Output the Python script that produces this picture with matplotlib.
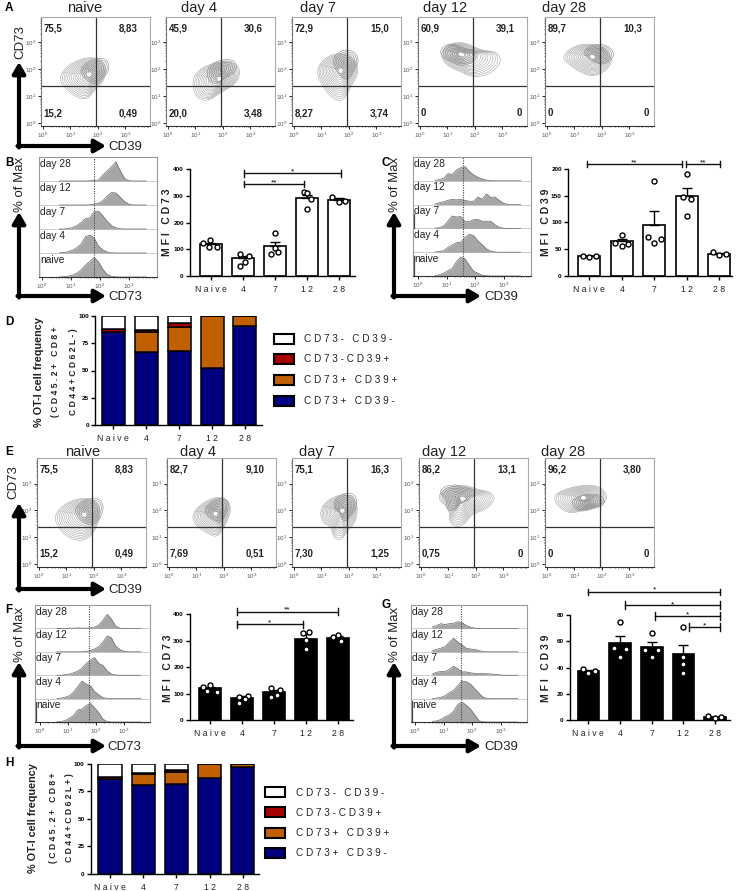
import numpy as np
import matplotlib
matplotlib.use("Agg")
import matplotlib.pyplot as plt

plt.rcParams['font.family'] = ['Liberation Sans', 'DejaVu Sans']
plt.rcParams['mathtext.default'] = 'regular'

W, H = 738, 891

# === Data ===
flow_titles = ["naive", "day 4", "day 7", "day 12", "day 28"]
flow_a_labels = [["75,5", "8,83", "15,2", "0,49"], ["45,9", "30,6", "20,0", "3,48"],
                 ["72,9", "15,0", "8,27", "3,74"], ["60,9", "39,1", "0", "0"], ["89,7", "10,3", "0", "0"]]
flow_e_labels = [["75,5", "8,83", "15,2", "0,49"], ["82,7", "9,10", "7,69", "0,51"],
                 ["75,1", "16,3", "7,30", "1,25"], ["86,2", "13,1", "0,75", "0"], ["96,2", "3,80", "0", "0"]]

# outer contour of each plot (log10 CD39, log10 CD73), and the densest spot
a_outer_x = [[.6, .85, 1.4, 1.95, 2.3, 2.25, 1.95, 1.6, 1.15, .7],
             [.87, 1.17, 1.78, 2.39, 2.66, 2.5, 1.96, 1.41, .99],
             [.79, 1.16, 1.71, 2.2, 2.38, 2.07, 1.83, 1.46, 1.04],
             [.73, 1.06, 1.61, 2.22, 2.83, 2.98, 2.59, 1.98, 1.49, .94],
             [.54, 1, 1.73, 2.22, 2.4, 2.1, 1.67, 1.18, .76]]
a_outer_y = [[1.7, 2.1, 2.4, 2.45, 2.15, 1.6, 1.3, .85, 1.0, 1.4],
             [1.6, 2.03, 2.27, 2.27, 1.96, 1.47, 1.16, .79, .98],
             [1.96, 2.46, 2.62, 2.4, 1.9, 1.35, .85, .85, 1.35],
             [2.58, 2.95, 3.01, 2.7, 2.64, 2.27, 1.84, 1.68, 1.9, 2.15],
             [2.46, 2.89, 2.95, 2.7, 2.27, 1.9, 1.72, 1.9, 2.21]]
a_peak = [(1.7, 1.81), (1.9, 1.65), (1.71, 1.96), (1.49, 2.56), (1.67, 2.46)]
a_dense = [(1.9, 1.95), (1.95, 1.95), (1.9, 2.2), (1.4, 2.55), (1.9, 2.55)]
e_outer_x = [[.55, .88, 1.49, 2.04, 2.26, 2.1, 1.85, 1.49, 1.06, .7],
             [.82, 1.12, 1.73, 2.16, 2.28, 1.98, 1.73, 1.37, 1.0],
             [.94, 1.22, 1.89, 2.32, 2.28, 1.89, 1.77, 1.46, 1.34, 1.04],
             [.57, .91, 1.59, 2.07, 2.56, 2.72, 2.38, 1.83, 1.59, 1.28, 1.04, 1.04],
             [.22, .61, 1.34, 1.95, 2.22, 2.07, 1.46, .85, .43]]
e_outer_y = [[1.79, 2.22, 2.47, 2.41, 1.98, 1.36, .99, .86, .99, 1.36],
             [1.79, 2.22, 2.53, 2.41, 1.98, 1.3, .99, 1.17, 1.42],
             [1.98, 2.41, 2.65, 2.35, 1.6, 1.17, .93, .93, 1.42, 1.54],
             [2.47, 2.86, 2.96, 2.78, 2.69, 2.41, 2.04, 1.85, 1.48, 1.36, 1.54, 2.04],
             [2.53, 2.78, 2.96, 2.9, 2.53, 2.22, 2.04, 1.88, 2.1]]
e_peak = [(1.67, 1.85), (1.71, 1.88), (1.77, 2.0), (1.52, 2.44), (1.34, 2.47)]
e_dense = [(1.85, 1.95), (1.75, 2.0), (1.85, 2.1), (1.3, 2.5), (1.5, 2.3)]

# histogram heights on a common log10 grid, rows from naive up to day 28
hist_x = [.6, .75, .9, 1.05, 1.2, 1.35, 1.5, 1.65, 1.8, 1.95, 2.1, 2.25, 2.4, 2.55, 2.7, 2.85, 3.0, 3.15, 3.3, 3.45, 3.6]
hist_rows = ["naive", "day 4", "day 7", "day 12", "day 28"]
hist_b = [[0, .01, .03, .08, .16, .3, .5, .65, .82, .62, .32, .1, .03, .01, 0, 0, 0, 0, 0, 0, 0],
          [.01, .02, .05, .12, .22, .38, .68, .75, .62, .28, .13, .04, .01, 0, 0, 0, 0, 0, 0, 0, 0],
          [0, 0, .02, .06, .14, .27, .43, .47, .72, .74, .55, .32, .14, .05, .01, 0, 0, 0, 0, 0, 0],
          [0, 0, 0, 0, 0, 0, 0, .01, .03, .07, .18, .38, .52, .5, .32, .14, .03, 0, 0, 0, 0],
          [0, 0, 0, 0, 0, 0, 0, .01, .02, .04, .25, .42, .6, .8, .42, .1, .01, 0, 0, 0, 0]]
hist_c = [[.02, .05, .12, .22, .32, .6, .8, .72, .45, .2, .12, .03, .01, 0, 0, 0, 0, 0, 0, 0, 0],
          [.01, .03, .06, .2, .3, .4, .42, .62, .75, .7, .48, .32, .14, .05, .01, 0, 0, 0, 0, 0, 0],
          [.01, .03, .1, .3, .52, .48, .5, .28, .28, .37, .38, .3, .3, .3, .15, .05, .01, 0, 0, 0, 0],
          [.02, .08, .12, .18, .22, .2, .22, .18, .14, .14, .32, .22, .45, .3, .32, .18, .06, .01, 0, 0, 0],
          [.02, .05, .1, .3, .26, .45, .55, .6, .4, .25, .15, .08, .03, .01, 0, 0, 0, 0, 0, 0, 0]]
hist_f = [[.01, .02, .06, .16, .28, .52, .55, .7, .8, .6, .4, .12, .02, 0, 0, 0, 0, 0, 0, 0, 0],
          [.01, .02, .06, .12, .28, .52, .75, .62, .55, .3, .16, .04, .01, 0, 0, 0, 0, 0, 0, 0, 0],
          [0, 0, .02, .05, .1, .18, .3, .5, .65, .75, .5, .42, .18, .05, .01, 0, 0, 0, 0, 0, 0],
          [0, 0, 0, 0, 0, 0, 0, .02, .05, .12, .22, .42, .68, .6, .25, .1, .02, 0, 0, 0, 0],
          [0, 0, 0, .01, .01, .02, .01, .01, .02, .05, .15, .35, .6, .4, .1, .01, 0, 0, 0, 0, 0]]
hist_g = [[.02, .05, .1, .22, .3, .45, .75, .85, .72, .55, .3, .05, .01, 0, 0, 0, 0, 0, 0, 0, 0],
          [.01, .02, .05, .12, .25, .35, .55, .75, .72, .62, .42, .22, .05, .01, 0, 0, 0, 0, 0, 0, 0],
          [.05, .12, .16, .15, .25, .38, .28, .14, .14, .1, .08, .07, .07, .06, .05, .03, .01, 0, 0, 0, 0],
          [.04, .1, .15, .22, .4, .58, .42, .3, .15, .12, .1, .05, .01, 0, 0, 0, 0, 0, 0, 0, 0],
          [.06, .12, .2, .17, .2, .22, .28, .25, .12, .05, .01, 0, 0, 0, 0, 0, 0, 0, 0, 0, 0]]

# bars
days = ["Naive", "4", "7", "12", "28"]
b_mean = [119, 66, 112, 291, 285]
b_err = [5, 10, 17, 13, 6]
b_pts = [[122, 135, 110, 107], [82, 75, 54, 37], [162, 106, 81, 89], [314, 312, 289, 251], [297, 279, 282]]
b_off = [[-.23, -.02, -.07, .19], [-.1, .18, .07, -.1], [0, 0, -.11, .1], [-.1, .02, .13, 0], [-.21, 0, .21]]
c_mean = [37, 65, 95, 149, 42]
c_err = [1, 5, 27, 15, 1]
c_pts = [[38, 36, 38], [77, 61, 56, 60], [178, 72, 61, 70], [190, 147, 144, 113], [44, 40, 42]]
c_off = [[-.2, 0, .2], [0, -.2, 0, .2], [0, -.2, 0, .2], [0, -.1, .12, 0], [-.18, 0, .2]]
f_mean = [120, 85, 106, 307, 312]
f_err = [5, 7, 9, 18, 5]
f_pts = [[124, 132, 111, 107], [88, 91, 80, 63], [122, 113, 95, 88], [328, 332, 303, 268], [322, 313, 299]]
f_off = [[-.21, 0, -.08, .21], [-.1, .19, .1, -.1], [-.1, .2, .1, -.1], [-.1, .1, 0, 0], [0, -.15, .1]]
g_mean = [37, 58.5, 56, 50, 2]
g_err = [1, 5.5, 3.5, 7.5, .5]
g_pts = [[38.5, 35.5, 37.5], [74.4, 54.6, 54, 47.7], [66, 53, 53, 48], [70.6, 48, 42.6, 36], [2.8, 1.5, 2.3]]
g_off = [[-.18, 0, .21], [0, -.2, .2, 0], [0, -.2, .2, 0], [0, 0, 0, 0], [-.21, 0, .18]]

# stacked bars
stack_names = ["CD73+ CD39-", "CD73+ CD39+", "CD73-CD39+", "CD73- CD39-"]
stack_colors = ["#00007f", "#c06000", "#a80000", "white"]
d_blue = [85.5, 67, 68, 52, 90.5]
d_orange = [0, 17.8, 21.4, 48, 9.5]
d_red = [2.5, 2.2, 3.6, 0, 0]
d_white = [12, 13, 7, 0, 0]
h_blue = [86, 80.9, 81.5, 87.5, 97]
h_orange = [0, 10, 11.5, 12.5, 2.7]
h_red = [2.4, .6, 1.5, 0, 0]
h_white = [11.6, 8.5, 5.5, 0, .3]


# === Helpers ===
fig = plt.figure(figsize=(W / 100, H / 100), dpi=100)


def ax_px(l, t, r, b):
    return fig.add_axes([l / W, 1 - b / H, (r - l) / W, (b - t) / H])


def spaced(s):
    return " ".join(s)


def chaikin(x, y, n=3):
    pts = np.column_stack([x, y])
    for _ in range(n):
        nxt = np.roll(pts, -1, axis=0)
        pts = np.column_stack([.75 * pts + .25 * nxt, .25 * pts + .75 * nxt]).reshape(-1, 2)
    return np.vstack([pts, pts[:1]])


def log_ticks(ax, axis):
    minor = [np.log10(m) + d for d in range(4) for m in range(2, 10) if np.log10(m) + d < 3.9]
    axis.set_ticks([0, 1, 2, 3])
    axis.set_ticklabels(["$10^{%d}$" % i for i in range(4)])
    axis.set_ticks(minor, minor=True)
    ax.tick_params(which='major', length=2, width=.6, labelsize=4.5, pad=1.5, labelcolor="#555555")
    ax.tick_params(which='minor', length=1, width=.4)


def flow_panel(box, title, labels, ox, oy, peak, dense, title_x, title_y):
    ax = ax_px(*box)
    ax.set_xlim(-.07, 3.9)
    ax.set_ylim(-.1, 3.95)
    outer = chaikin(ox, oy)
    for i in range(16):
        t = 1 - i / 16
        ax.plot(peak[0] + (outer[:, 0] - peak[0]) * t, peak[1] + (outer[:, 1] - peak[1]) * t,
                color="#9a9a9a", lw=.35)
    # dark part of the contour plot
    mx, my = outer[:, 0].mean(), outer[:, 1].mean()
    for t in np.arange(.06, .62, .08):
        ax.plot(dense[0] + (outer[:, 0] - mx) * t, dense[1] + (outer[:, 1] - my) * t,
                color="#777777", lw=.35)
    ax.plot(peak[0] + (outer[:, 0] - peak[0]) * .05, peak[1] + (outer[:, 1] - peak[1]) * .05, color="white", lw=1.5)
    ax.axvline(1.95, color="#333333", lw=.9)
    ax.axhline(1.37, color="#333333", lw=.9)
    for s in ax.spines.values():
        s.set_color("#aaaaaa")
        s.set_linewidth(.8)
    ax.spines['bottom'].set_color("#333333")
    ax.spines['left'].set_color("#777777")
    log_ticks(ax, ax.xaxis)
    log_ticks(ax, ax.yaxis)
    l, t, r, b = box
    kw = dict(fontsize=7, fontweight='bold', va='center', color="#222222")
    ov.text(l + 2.5, t + 12, labels[0], **kw)
    ov.text(r - 12, t + 12, labels[1], ha='right', **kw)
    ov.text(l + 2.5, b - 13, labels[2], **kw)
    ov.text(r - (5 if labels[3] == "0" else 12), b - 13, labels[3], ha='right', **kw)
    ov.text(title_x, title_y, title, fontsize=10.5, ha='center', va='center', color="#222222")


def hist_panel(box, x0, decade, dotted, rows, spikes):
    l, t, r, b = box
    ax = ax_px(*box)
    ax.set_xlim((l - x0) / decade, (r - x0) / decade)
    ax.set_ylim(0, 5)
    for i, vals in enumerate(rows):
        ax.fill_between(hist_x, i, np.array(vals) + i, color="#a6a6a6", lw=0)
        ax.plot(hist_x, np.array(vals) + i, color="#666666", lw=.5)
        ax.axhline(i, color="#cccccc", lw=.7, zorder=0)
        ax.text(.012, (i + .72) / 5, hist_rows[i], transform=ax.transAxes, fontsize=7.4, va='center', color="#222222")
    for i, h in spikes:
        ax.plot([(l - x0) / decade + .02] * 2, [i, i + h], color="#444444", lw=.9)
    ax.axvline(dotted, color="#444444", lw=.8, ls=(0, (1, 1.2)))
    for s in ax.spines.values():
        s.set_color("#999999")
        s.set_linewidth(.8)
    ax.spines['bottom'].set_color("#333333")
    log_ticks(ax, ax.xaxis)
    ax.set_yticks([])


def style_bar_axis(ax, yticks):
    for s in ('top', 'right'):
        ax.spines[s].set_visible(False)
    ax.spines['left'].set_linewidth(1)
    ax.spines['bottom'].set_linewidth(1)
    ax.set_xticks(range(5))
    ax.set_xticklabels([spaced(d) for d in days], fontsize=6.2, color="#222222")
    ax.set_yticks(yticks)
    ax.tick_params(axis='y', length=3, width=1, labelsize=4.6, pad=1.5)
    ax.tick_params(axis='x', length=3, width=1, pad=3.5)
    for lab in ax.get_yticklabels():
        lab.set_fontweight('bold')


def bar_panel(box, xlim, ymax, yticks, mean, err, pts, off, color):
    ax = ax_px(*box)
    ax.set_xlim(*xlim)
    ax.set_ylim(0, ymax)
    ax.bar(range(5), mean, width=.68, color=color, edgecolor='black', lw=1.2)
    ax.errorbar(range(5), mean, yerr=[[0] * 5, err], fmt='none', ecolor='black', elinewidth=1, capsize=3.4, capthick=1)
    for i in range(5):
        ax.scatter(np.array(off[i]) + i, pts[i], s=13, facecolor='white', edgecolor='black', lw=1, zorder=5, clip_on=False)
    style_bar_axis(ax, yticks)
    return ax


def bracket(ax, x1, x2, y, label, tick):
    ax.plot([x1, x2], [y, y], color="#111111", lw=1, clip_on=False)
    for x in (x1, x2):
        ax.plot([x, x], [y - tick, y + tick], color="#111111", lw=1, clip_on=False)
    ax.text((x1 + x2) / 2, y - tick * .7, label, fontsize=6, ha='center', va='bottom', clip_on=False)


def stack_panel(box, xlim, rows, legend_x, legend_y):
    ax = ax_px(*box)
    ax.set_xlim(*xlim)
    ax.set_ylim(0, 100)
    bottom = np.zeros(5)
    for vals, col in zip(rows, stack_colors):
        ax.bar(range(5), vals, bottom=bottom, width=.7, color=col, edgecolor='black', lw=1.1)
        bottom += np.array(vals)
    style_bar_axis(ax, [0, 25, 50, 75, 100])
    # legend, top entry is the top of the stack
    for name, col, y in zip(stack_names[::-1], stack_colors[::-1], legend_y):
        ov.add_patch(plt.Rectangle((legend_x, y), 20, 10, facecolor=col, edgecolor='black', lw=1.5))
        ov.text(legend_x + 31, y + 5.5, spaced(name), fontsize=7.2, va='center', color="#222222")


def axis_arrows(x, y, top, right, xlabel, ylabel, ylabel_x, ylabel_y, label_x):
    arrow = dict(arrowstyle='-|>,head_length=.55,head_width=.32', color='black', lw=3, shrinkA=0, shrinkB=0, mutation_scale=12)
    ov.annotate("", xy=(x, top), xytext=(x, y + 1.5), arrowprops=arrow)
    ov.annotate("", xy=(right, y), xytext=(x - 1.5, y), arrowprops=arrow)
    ov.text(label_x, y + 1, xlabel, fontsize=9.5, va='center', color="#222222")
    ov.text(ylabel_x, ylabel_y, ylabel, fontsize=9.5, rotation=90, ha='center', va='center', color="#222222")


# === Overlay in pixel coordinates for texts and arrows ===
ov = fig.add_axes([0, 0, 1, 1], zorder=10)
ov.set_xlim(0, W)
ov.set_ylim(H, 0)
ov.axis('off')
ov.patch.set_alpha(0)

for text, x, y in [("A", 5, 8), ("B", 5, 163), ("C", 381, 163), ("D", 5, 322),
                   ("E", 5, 452), ("F", 5, 610), ("G", 381, 605), ("H", 5, 763)]:
    ov.text(x, y, text, fontsize=8.5, fontweight='bold', va='center')

# === Contour plots ===
a_left = [41, 166, 292, 418, 545]
e_left = [37, 167, 292, 419, 545]
a_title_x = [85, 199, 318, 445, 564]
e_title_x = [83, 198, 317, 444, 563]
for i in range(5):
    flow_panel((a_left[i], 16.5, a_left[i] + 109, 126), flow_titles[i], flow_a_labels[i],
               a_outer_x[i], a_outer_y[i], a_peak[i], a_dense[i], a_title_x[i], 8)
    flow_panel((e_left[i], 458, e_left[i] + 109, 567), flow_titles[i], flow_e_labels[i],
               e_outer_x[i], e_outer_y[i], e_peak[i], e_dense[i], e_title_x[i], 452)

axis_arrows(19, 146, 62, 106, "CD39", "CD73", 20, 42, 108)
axis_arrows(19, 589, 503, 106, "CD39", "CD73", 13, 482, 108)

# === Histograms ===
hist_panel((38.5, 157, 157, 277), 42, 29, 1.79, hist_b, [(0, .8)])
hist_panel((413, 157, 531, 276), 418, 28.5, 1.58, hist_c, [(0, .85), (2, .6)])
hist_panel((35, 605, 150, 722), 40, 28, 1.75, hist_f, [(0, .85)])
hist_panel((411, 605, 527, 722), 415, 28.5, 1.61, hist_g, [(0, .9)])

axis_arrows(19, 296, 212, 106, "CD73", "% of Max", 20, 184, 108)
axis_arrows(394, 296, 212, 481, "CD39", "% of Max", 395, 184, 484)
axis_arrows(19, 746, 662, 106, "CD73", "% of Max", 20, 634, 107)
axis_arrows(394, 746, 662, 481, "CD39", "% of Max", 395, 634, 484)

# === MFI bars ===
ax_b = bar_panel((190, 169.3, 355, 276), (-.65, 4.51), 400, [0, 100, 200, 300, 400], b_mean, b_err, b_pts, b_off, 'white')
bracket(ax_b, 1.05, 4.06, 385, "*", 12)
bracket(ax_b, 1.05, 2.92, 344, "**", 12)
ax_c = bar_panel((568, 169, 732, 276), (-.66, 4.4), 200, [0, 50, 100, 150, 200], c_mean, c_err, c_pts, c_off, 'white')
bracket(ax_c, -.08, 2.85, 209, "**", 6)
bracket(ax_c, 2.97, 4.03, 209, "**", 6)
ax_f = bar_panel((190, 614.3, 353, 720), (-.625, 4.47), 400, [0, 100, 200, 300, 400], f_mean, f_err, f_pts, f_off, 'black')
bracket(ax_f, .83, 4.0, 410, "**", 12)
bracket(ax_f, .83, 2.9, 362, "*", 12)
ax_g = bar_panel((570, 615, 730, 720), (-.58, 4.47), 80, [0, 20, 40, 60, 80], g_mean, g_err, g_pts, g_off, 'black')
bracket(ax_g, 0, 4.15, 97.6, "*", 2)
bracket(ax_g, 1.16, 4.15, 87.5, "*", 3)
bracket(ax_g, 2.1, 4.15, 79.4, "*", 3)
bracket(ax_g, 3.19, 4.15, 71, "*", 3)

for x, y, txt in [(167, 222, "MFI CD73"), (546, 222, "MFI CD39"), (168, 668, "MFI CD73"), (546, 668, "MFI CD39")]:
    ov.text(x, y, spaced(txt), fontsize=7.5, fontweight='bold', rotation=90, ha='center', va='center', color="#222222")

# === Stacked bars ===
stack_panel((95, 315.7, 261.7, 425.3), (-.56, 4.51), [d_blue, d_orange, d_red, d_white], 273.5, [333.5, 354, 374.5, 395.5])
stack_panel((90.7, 764, 259, 873.7), (-.58, 4.49), [h_blue, h_orange, h_red, h_white], 264.5, [787, 807, 827.5, 848])

ylabel_d = [(39, "% OT-I cell frequency"), (56, "(CD45.2+ CD8+"), (73, "CD44+CD62L-)")]
ylabel_h = [(33, "% OT-I cell frequency"), (53, "(CD45.2+ CD8+"), (70, "CD44+CD62L+)")]
for lines, yc in [(ylabel_d, 372), (ylabel_h, 818)]:
    for x, txt in lines:
        label = txt if txt.startswith("%") else spaced(txt)
        ov.text(x, yc, label, fontsize=7.8 if txt.startswith("%") else 6.2, fontweight='bold', rotation=90,
                ha='center', va='center', color="#222222")

fig.savefig("out.png", dpi=100)
